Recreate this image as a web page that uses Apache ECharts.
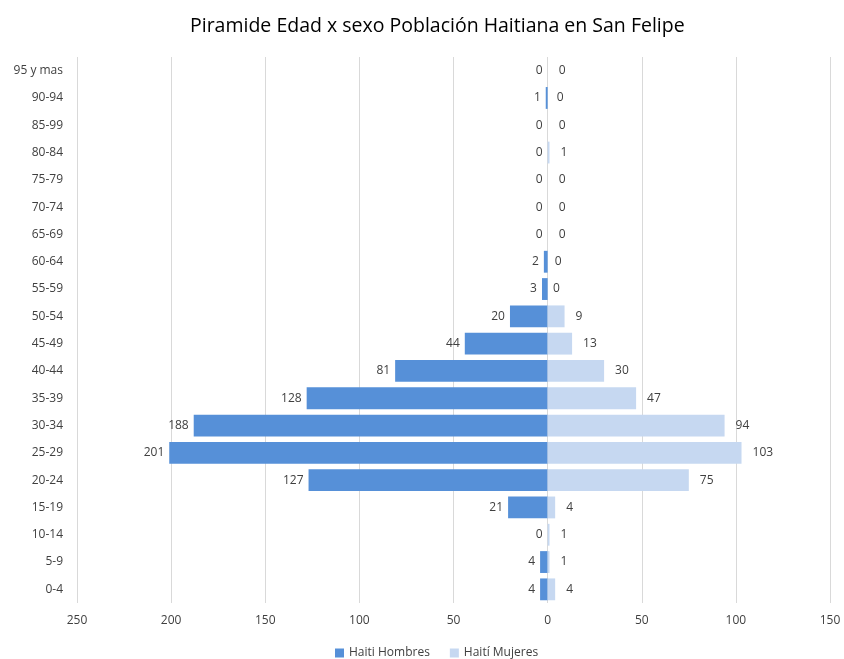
<!DOCTYPE html>
<html>
<head>
<meta charset="utf-8">
<script src="https://cdn.jsdelivr.net/npm/echarts@6/dist/echarts.min.js"></script>
<style>html,body{margin:0;padding:0;background:#fff}#c{width:844px;height:659px}</style>
</head>
<body>
<div id="c"></div>
<script>
var categories = ["0-4","5-9","10-14","15-19","20-24","25-29","30-34","35-39","40-44","45-49","50-54","55-59","60-64","65-69","70-74","75-79","80-84","85-99","90-94","95 y mas"];
var hombres = [4,4,0,21,127,201,188,128,81,44,20,3,2,0,0,0,0,0,1,0];
var mujeres = [4,1,1,4,75,103,94,47,30,13,9,0,0,0,0,0,1,0,0,0];

var chart = echarts.init(document.getElementById('c'));
var font = '"Open Sans", "Liberation Sans", sans-serif';
chart.setOption({
  animation: false,
  title: {
    text: 'Piramide Edad x sexo Población Haitiana en San Felipe',
    left: 185, top: 11,
    textStyle: {fontFamily: font, fontSize: 19.5, fontWeight: 'normal', color: '#000'}
  },
  legend: {
    top: 642, left: 330, itemWidth: 9, itemHeight: 9, itemGap: 20,
    icon: 'rect',
    textStyle: {fontFamily: font, fontSize: 12, color: '#404040'},
    data: ['Haiti Hombres', 'Haití Mujeres']
  },
  grid: {left: 77, right: 14, top: 57, bottom: 56, containLabel: false},
  xAxis: {
    type: 'value', min: -250, max: 150, interval: 50,
    axisLine: {show: false}, axisTick: {show: false},
    splitLine: {lineStyle: {color: '#d9d9d9'}},
    axisLabel: {fontFamily: font, fontSize: 12, color: '#404040', margin: 12,
      formatter: function(v){ return Math.abs(v); }}
  },
  yAxis: {
    type: 'category', data: categories,
    axisLine: {show: false}, axisTick: {show: false},
    axisLabel: {fontFamily: font, fontSize: 12, color: '#404040', margin: 14}
  },
  series: [
    {
      name: 'Haiti Hombres', type: 'bar', stack: 'p', barWidth: '80%',
      itemStyle: {color: '#5690D8'},
      data: hombres.map(function(v){ return -v; }),
      label: {show: true, position: 'left', distance: 5, fontFamily: font, fontSize: 12, color: '#404040',
        formatter: function(p){ return Math.abs(p.value); }}
    },
    {
      name: 'Haití Mujeres', type: 'bar', stack: 'p', barWidth: '80%',
      itemStyle: {color: '#C6D8F1'},
      data: mujeres,
      label: {show: true, position: 'right', distance: 11, fontFamily: font, fontSize: 12, color: '#404040'}
    }
  ]
});
</script>
</body>
</html>
